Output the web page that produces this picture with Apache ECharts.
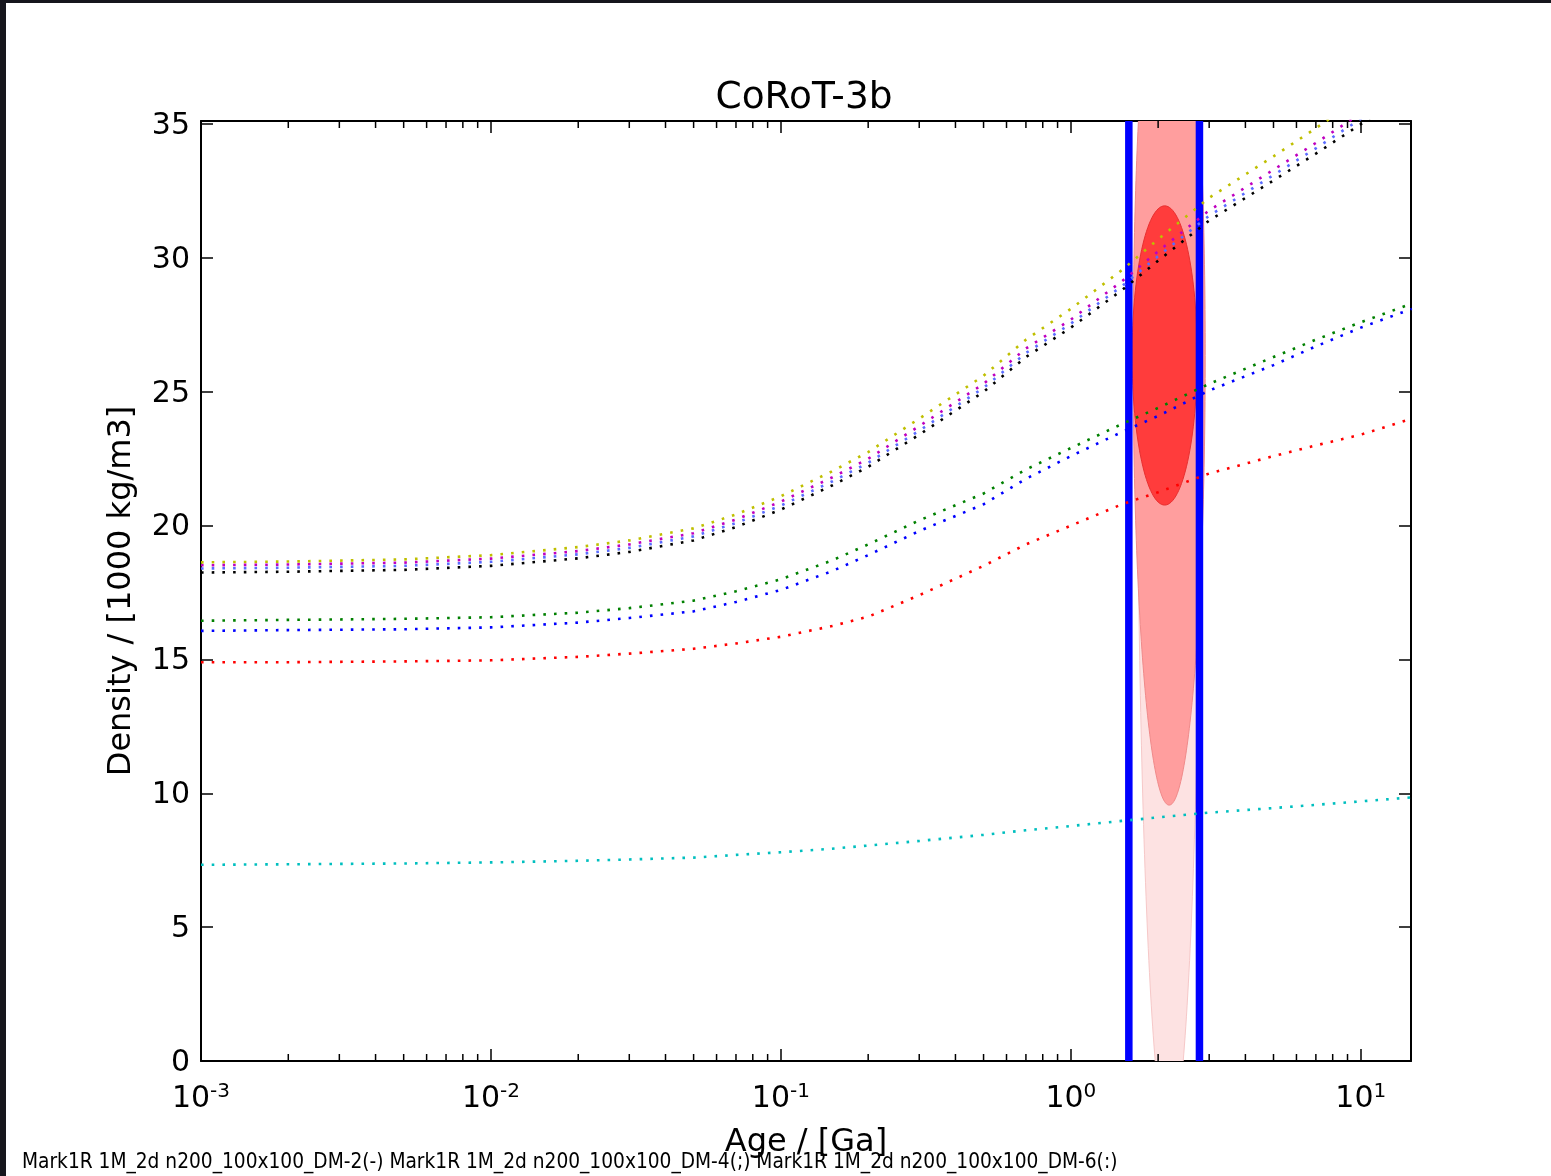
<!DOCTYPE html>
<html>
<head>
<meta charset="utf-8">
<title>CoRoT-3b</title>
<script src="https://cdn.jsdelivr.net/npm/echarts@6.0.0/dist/echarts.min.js"></script>
<style>
  html, body { margin: 0; padding: 0; background: #fff; }
  #chart { width: 1551px; height: 1176px; }
</style>
</head>
<body>
<div id="chart"></div>
<script>
// ages in Ga, shared by all curves
const ages = [0.001, 0.002, 0.005, 0.01, 0.02, 0.03, 0.05, 0.07, 0.1, 0.15, 0.2, 0.3, 0.5, 0.7, 1, 1.5, 2, 3, 5, 7, 10, 15]

// density curves, 1000 kg/m3
const densYellow  = [18.63, 18.66, 18.74, 18.9, 19.2, 19.45, 19.9, 20.42, 21.1, 22.03, 22.75, 24.0, 25.6, 26.95, 28.1, 29.55, 30.7, 32.25, 33.8, 34.85, 36.0, 37.3]
const densMagenta = [18.52, 18.55, 18.62, 18.77, 19.05, 19.3, 19.72, 20.23, 20.9, 21.8, 22.5, 23.72, 25.3, 26.62, 27.7, 29.13, 30.25, 31.78, 33.3, 34.3, 35.4, 36.7]
const densBlue2   = [18.40, 18.43, 18.5, 18.65, 18.93, 19.17, 19.6, 20.1, 20.75, 21.65, 22.35, 23.55, 25.15, 26.45, 27.55, 28.95, 30.07, 31.58, 33.1, 34.1, 35.2, 36.5]
const densBlack   = [18.25, 18.28, 18.35, 18.5, 18.78, 19.02, 19.45, 19.95, 20.6, 21.5, 22.2, 23.4, 25.0, 26.3, 27.4, 28.8, 29.9, 31.4, 32.9, 33.9, 35.0, 36.3]
const densGreen   = [16.45, 16.48, 16.52, 16.58, 16.75, 16.92, 17.2, 17.55, 18.0, 18.7, 19.3, 20.2, 21.2, 22.1, 22.9, 23.8, 24.4, 25.3, 26.3, 26.95, 27.6, 28.3]
const densBlue    = [16.07, 16.1, 16.13, 16.2, 16.38, 16.55, 16.8, 17.15, 17.6, 18.3, 18.9, 19.8, 20.8, 21.75, 22.6, 23.5, 24.1, 25.05, 26.0, 26.7, 27.4, 28.1]
const densRed     = [14.9, 14.9, 14.93, 14.97, 15.1, 15.22, 15.4, 15.6, 15.85, 16.25, 16.6, 17.4, 18.5, 19.3, 20.0, 20.8, 21.25, 21.95, 22.6, 23.0, 23.4, 24.0]
const densCyan    = [7.33, 7.35, 7.38, 7.42, 7.48, 7.53, 7.6, 7.7, 7.8, 7.93, 8.05, 8.22, 8.45, 8.62, 8.78, 8.97, 9.1, 9.28, 9.45, 9.57, 9.7, 9.85]

// age bounds of the star (vertical blue lines)
const ageBounds = [1.585, 2.777]

// error ellipses: outer, middle, inner
const ellipseCenter = [2.18, 26.36]
const ellipseAgeLow = [1.694, 1.640, 1.627]
const ellipseAgeHigh = [2.816, 2.907, 2.728]
const ellipseDensHalf = [29.3, 16.8, 5.59]

// minor ticks of the log axis
const minorTicks = [
  0.002, 0.003, 0.004, 0.005, 0.006, 0.007, 0.008, 0.009,
  0.02, 0.03, 0.04, 0.05, 0.06, 0.07, 0.08, 0.09,
  0.2, 0.3, 0.4, 0.5, 0.6, 0.7, 0.8, 0.9,
  2, 3, 4, 5, 6, 7, 8, 9
]
const yTicks = [0, 5, 10, 15, 20, 25, 30, 35]

const legendText = 'Mark1R 1M_2d n200_100x100_DM-2(-) Mark1R 1M_2d n200_100x100_DM-4(;) Mark1R 1M_2d n200_100x100_DM-6(:)'

const curves = [
  { name: 'yellow', color: '#bfbf00', values: densYellow },
  { name: 'magenta', color: '#bf00bf', values: densMagenta },
  { name: 'blue2', color: '#5a6cff', values: densBlue2 },
  { name: 'black', color: '#000000', values: densBlack },
  { name: 'green', color: '#008000', values: densGreen },
  { name: 'blue', color: '#0000ff', values: densBlue },
  { name: 'red', color: '#ff0000', values: densRed },
  { name: 'cyan', color: '#00bfbf', values: densCyan }
]

const ellipseFills = ['#fde2e2', '#ff9e9e', '#ff3c3c']
const ellipseStrokes = ['#f6c8c8', '#f08a8a', '#e83030']

const font = 'DejaVu Sans'
const xMin = 0.001
const xMax = 14.9
const yMax = 35.12

const chart = echarts.init(document.getElementById('chart'))

const lineSeries = curves.map(c => ({
  name: c.name,
  type: 'line',
  z: 4,
  data: ages.map((a, i) => [a, c.values[i]]),
  showSymbol: false,
  symbol: 'none',
  smooth: false,
  lineStyle: { color: c.color, width: 2.6, type: [2.6, 8.1], cap: 'butt' },
  silent: true
}))

const option = {
  animation: false,
  backgroundColor: '#fff',
  title: {
    text: 'CoRoT-3b',
    left: 799,
    top: 74,
    textAlign: 'center',
    textStyle: { fontFamily: font, fontSize: 37.5, fontWeight: 'normal', color: '#000' }
  },
  grid: { left: 201, top: 121, width: 1210, height: 940 },
  xAxis: [
    {
      type: 'log',
      logBase: 10,
      min: xMin,
      max: xMax,
      position: 'bottom',
      name: 'Age / [Ga]',
      nameLocation: 'middle',
      nameGap: 66,
      nameTextStyle: { fontFamily: font, fontSize: 32, color: '#000' },
      axisLine: { show: true, onZero: false, lineStyle: { color: '#000', width: 2 } },
      axisTick: { inside: true, length: 12, lineStyle: { color: '#000', width: 1.5 } },
      splitLine: { show: false },
      minorTick: { show: false },
      axisLabel: {
        margin: 21,
        showMaxLabel: false,
        formatter: v => '{b|10}{s|' + Math.round(Math.log10(v)) + '}',
        rich: {
          b: { fontFamily: font, fontSize: 30, color: '#000' },
          s: { fontFamily: font, fontSize: 20, color: '#000', padding: [0, 0, 14, 0] }
        }
      }
    },
    {
      type: 'log',
      logBase: 10,
      min: xMin,
      max: xMax,
      position: 'top',
      axisLine: { show: true, onZero: false, lineStyle: { color: '#000', width: 2 } },
      axisTick: { inside: true, length: 12, lineStyle: { color: '#000', width: 1.5 } },
      axisLabel: { show: false },
      splitLine: { show: false }
    }
  ],
  yAxis: [
    {
      type: 'value',
      min: 0,
      max: yMax,
      interval: 5,
      position: 'left',
      name: 'Density / [1000 kg/m3]',
      nameLocation: 'middle',
      nameGap: 63,
      nameTextStyle: { fontFamily: font, fontSize: 32, color: '#000' },
      axisLine: { show: true, onZero: false, lineStyle: { color: '#000', width: 2 } },
      axisTick: { inside: true, length: 12, lineStyle: { color: '#000', width: 1.5 } },
      splitLine: { show: false },
      axisLabel: {
        margin: 11,
        showMaxLabel: true,
        formatter: v => yTicks.includes(v) ? '{t|' + v + '}' : '',
        rich: {
          t: { fontFamily: font, fontSize: 30, color: '#000', padding: [4, 0, 0, 0] }
        }
      }
    },
    {
      type: 'value',
      min: 0,
      max: yMax,
      interval: 5,
      position: 'right',
      axisLine: { show: true, onZero: false, lineStyle: { color: '#000', width: 2 } },
      axisTick: { inside: true, length: 12, lineStyle: { color: '#000', width: 1.5 } },
      axisLabel: { show: false },
      splitLine: { show: false }
    }
  ],
  graphic: [
    { type: 'rect', left: 0, top: 0, shape: { width: 1551, height: 3 }, style: { fill: '#16161d' }, silent: true },
    { type: 'rect', left: 0, top: 0, shape: { width: 6, height: 1176 }, style: { fill: '#16161d' }, silent: true },
    {
      type: 'text',
      left: 22,
      top: 1152,
      style: {
        text: legendText,
        fontFamily: 'Liberation Sans Narrow, DejaVu Sans Condensed, sans-serif',
        fontSize: 20.7,
        fill: '#000'
      },
      silent: true
    }
  ],
  series: [
    {
      name: 'ellipses',
      type: 'custom',
      z: 1,
      clip: true,
      silent: true,
      data: ellipseDensHalf.map((h, i) => [ellipseCenter[0], ellipseCenter[1], ellipseAgeLow[i], ellipseAgeHigh[i], h]),
      renderItem: (params, api) => {
        const i = params.dataIndex
        const c = api.coord([api.value(0), api.value(1)])
        const lo = api.coord([api.value(2), api.value(1)])
        const hi = api.coord([api.value(3), api.value(1)])
        const top = api.coord([api.value(0), api.value(1) + api.value(4)])
        return {
          type: 'ellipse',
          shape: { cx: (lo[0] + hi[0]) / 2, cy: c[1], rx: (hi[0] - lo[0]) / 2, ry: c[1] - top[1] },
          style: { fill: ellipseFills[i], stroke: ellipseStrokes[i], lineWidth: 1 }
        }
      }
    },
    {
      name: 'age bounds',
      type: 'custom',
      z: 3,
      clip: true,
      silent: true,
      data: ageBounds.map(a => [a, 0]),
      renderItem: (params, api) => {
        const p0 = api.coord([api.value(0), 0])
        const p1 = api.coord([api.value(0), yMax])
        return {
          type: 'line',
          shape: { x1: p0[0], y1: p0[1], x2: p1[0], y2: p1[1] },
          style: { stroke: '#0000ff', lineWidth: 7.5 }
        }
      }
    },
    ...lineSeries,
    {
      name: 'minor ticks',
      type: 'custom',
      z: 5,
      silent: true,
      data: minorTicks.map(t => [t, 0]),
      renderItem: (params, api) => {
        const b = api.coord([api.value(0), 0])
        const t = api.coord([api.value(0), yMax])
        return {
          type: 'group',
          children: [
            { type: 'line', shape: { x1: b[0], y1: b[1], x2: b[0], y2: b[1] - 7 }, style: { stroke: '#000', lineWidth: 1.5 } },
            { type: 'line', shape: { x1: t[0], y1: t[1], x2: t[0], y2: t[1] + 7 }, style: { stroke: '#000', lineWidth: 1.5 } }
          ]
        }
      }
    }
  ]
}

chart.setOption(option)

window.addEventListener('resize', () => {
  chart.resize()
})
</script>
</body>
</html>
